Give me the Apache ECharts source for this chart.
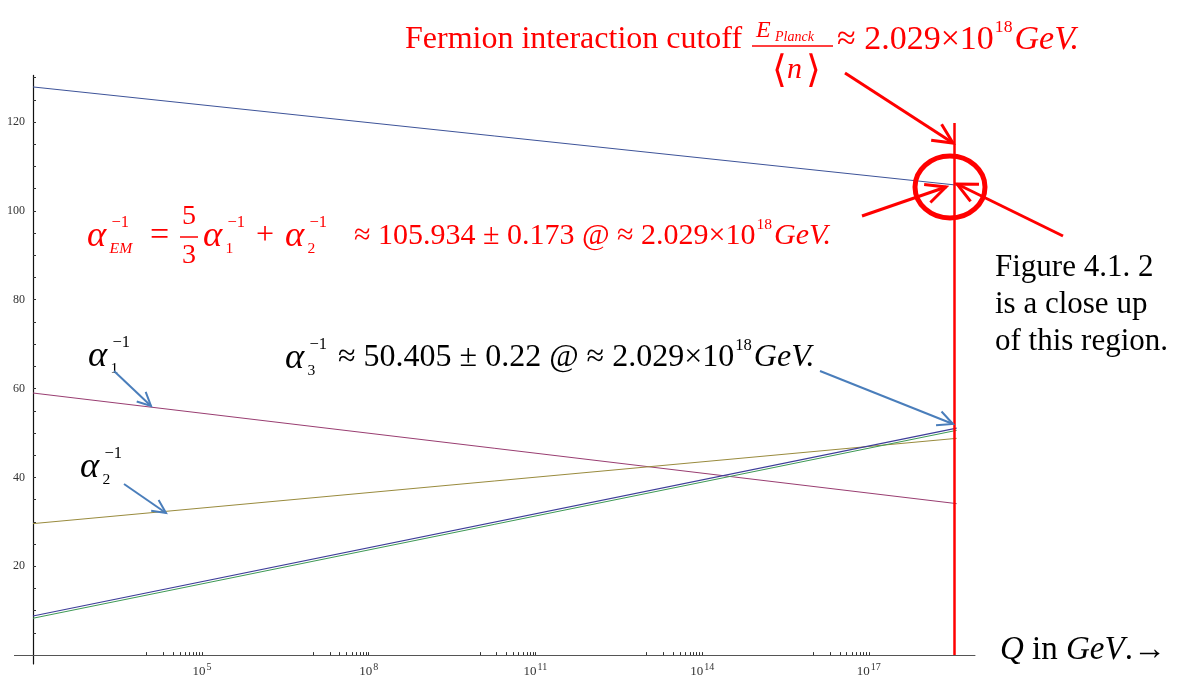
<!DOCTYPE html>
<html>
<head>
<meta charset="utf-8">
<script src="https://cdn.jsdelivr.net/npm/echarts@6/dist/echarts.min.js"></script>
<style>
  html, body { margin: 0; padding: 0; background: #fff; }
  #chart { width: 1179px; height: 677px; }
</style>
</head>
<body>
<div id="chart"></div>
<script>
// x is log10(Q / GeV)
const logQ = [1.96, 18.58];
const alphaEMinv = [127.9, 105.8];
const alpha1inv = [59.0, 34.1];
const alpha2inv = [29.6, 48.8];
const alpha3inv = [8.8, 51.1];
const alpha3invB = [8.3, 50.6];
const cutoffLogQ = 18.53;
const cutoffTop = 119.8;
const decades = [5, 8, 11, 14, 17];
const yLabels = [20, 40, 60, 80, 100, 120];
const yTicks = [5, 10, 15, 20, 25, 30, 35, 40, 45, 50, 55, 60, 65, 70, 75, 80, 85, 90, 95, 100, 105, 110, 115, 120, 125, 130];

const SERIF = '"Liberation Serif", "DejaVu Serif", serif';
const RED = '#ff0000';
const BLUE_ARROW = '#4a7ebb';

function pairs(ys) {
  return logQ.map(function (x, i) { return [x, ys[i]]; });
}

// minor ticks only in the decade before each labelled power
let xTicks = [];
decades.forEach(function (n) {
  for (let k = 1; k <= 9; k++) xTicks.push(n - 1 + Math.log10(k));
  xTicks.push(n);
});

function txt(x, y, s, size, color, italic, align) {
  return {
    type: 'text', x: x, y: y, z: 100,
    style: {
      text: s, fill: color, fontSize: size, fontFamily: SERIF,
      fontStyle: italic ? 'italic' : 'normal',
      align: align || 'left', verticalAlign: 'middle'
    }
  };
}

// greek alpha with stacked super- and subscript
function alpha(x, y, size, sub, sup, color, subItalic) {
  return [
    txt(x - 1, y, 'α', size * 1.22, color, true),
    txt(x + size * 0.78, y - size * 0.45, sup, size * 0.55, color, false),
    txt(x + size * 0.72, y + size * 0.42, sub, size * 0.52, color, !!subItalic)
  ];
}

function seg(x1, y1, x2, y2, color, w) {
  return {
    type: 'line', z: 100,
    shape: { x1: x1, y1: y1, x2: x2, y2: y2 },
    style: { stroke: color, lineWidth: w }
  };
}

function arrow(x1, y1, x2, y2, color, w, head) {
  const a = Math.atan2(y2 - y1, x2 - x1);
  const h = head || 18;
  const s = 0.45;
  return [
    seg(x1, y1, x2, y2, color, w),
    {
      type: 'polyline', z: 100,
      shape: { points: [
        [x2 - h * Math.cos(a - s), y2 - h * Math.sin(a - s)],
        [x2, y2],
        [x2 - h * Math.cos(a + s), y2 - h * Math.sin(a + s)]
      ] },
      style: { stroke: color, lineWidth: w, fill: null }
    }
  ];
}

function rich(x, y, parts, size, color) {
  return {
    type: 'text', x: x, y: y, z: 100,
    style: {
      text: parts, fill: color, fontSize: size, fontFamily: SERIF,
      verticalAlign: 'middle',
      rich: {
        n: { fontSize: size, fontFamily: SERIF, fill: color },
        i: { fontSize: size, fontFamily: SERIF, fill: color, fontStyle: 'italic' },
        s: { fontSize: size * 0.52, fontFamily: SERIF, fill: color, padding: [0, 2, size * 0.75, 1] }
      }
    }
  };
}

let g = [];
// x axis overshoot to the left of the y axis
g.push(seg(14, 655.5, 33, 655.5, '#555', 1));

// top caption
g.push(txt(405, 40, 'Fermion interaction cutoff', 32, RED, false));
g.push(txt(756, 31, 'E', 24, RED, true));
g.push(txt(775, 37, 'Planck', 14, RED, true));
g.push(seg(752, 46, 833, 46, RED, 1.5));
g.push(txt(772, 72, '⟨', 38, RED, false));
g.push(txt(787, 70, 'n', 30, RED, true));
g.push(txt(806, 72, '⟩', 38, RED, false));
g.push(rich(837, 40, '{n|≈ 2.029×10}{s|18}{i|GeV.}', 34, RED));

// EM relation
g = g.concat(alpha(88, 236, 30, 'EM', '−1', RED, true));
g.push(txt(150, 236, '=', 34, RED, false));
g.push(txt(189, 217, '5', 28, RED, false, 'center'));
g.push(seg(180, 237, 198, 237, RED, 1.5));
g.push(txt(189, 256, '3', 28, RED, false, 'center'));
g = g.concat(alpha(204, 236, 30, '1', '−1', RED));
g.push(txt(256, 236, '+', 32, RED, false));
g = g.concat(alpha(286, 236, 30, '2', '−1', RED));
g.push(rich(354, 236, '{n|≈ 105.934 ± 0.173 @ ≈ 2.029×10}{s|18}{i|GeV.}', 30, RED));

// alpha3 caption
g = g.concat(alpha(286, 358, 30, '3', '−1', '#000'));
g.push(rich(338, 358, '{n|≈ 50.405 ± 0.22 @ ≈ 2.029×10}{s|18}{i|GeV.}', 32, '#000'));

// line labels
g = g.concat(alpha(89, 356, 30, '1', '−1', '#000'));
g = g.concat(alpha(81, 467, 30, '2', '−1', '#000'));

// side note
g.push(txt(995, 268, 'Figure 4.1. 2', 31, '#000', false));
g.push(txt(995, 305, 'is a close up', 31, '#000', false));
g.push(txt(995, 342, 'of this region.', 31, '#000', false));

// axis title
g.push(rich(1000, 650, '{i|Q}{n| in }{i|GeV}{n|.→}', 33, '#000'));

// red arrows and circle
g = g.concat(arrow(845, 73, 953, 143, RED, 3, 22));
g = g.concat(arrow(862, 216, 946, 187, RED, 3, 22));
g = g.concat(arrow(1063, 236, 957, 184, RED, 3, 22));
g.push({
  type: 'ellipse', z: 100,
  shape: { cx: 950, cy: 187, rx: 35, ry: 31 },
  style: { stroke: RED, lineWidth: 5, fill: null }
});

// blue pointer arrows
g = g.concat(arrow(114, 371, 151, 406, BLUE_ARROW, 2, 15));
g = g.concat(arrow(124, 484, 166, 513, BLUE_ARROW, 2, 15));
g = g.concat(arrow(820, 371, 953, 424, BLUE_ARROW, 2, 17));

const chart = echarts.init(document.getElementById('chart'));

chart.setOption({
  animation: false,
  backgroundColor: '#fff',
  grid: { left: 33, right: 204, top: 75.4, bottom: 13, outerBoundsMode: 'none', containLabel: false },
  xAxis: {
    type: 'value',
    min: 1.96,
    max: 18.91,
    splitLine: { show: false },
    axisLine: { onZero: true, lineStyle: { color: '#555', width: 1 } },
    axisTick: { inside: true, length: 3, customValues: xTicks, lineStyle: { color: '#333' } },
    axisLabel: {
      customValues: decades,
      margin: -2,
      formatter: function (v) { return '{b|10}{s|' + Math.round(v) + '}'; },
      rich: {
        b: { fontSize: 13, fontFamily: SERIF, color: '#333' },
        s: { fontSize: 10, fontFamily: SERIF, color: '#333', padding: [0, 0, 9, 1] }
      }
    }
  },
  yAxis: {
    type: 'value',
    min: -2,
    max: 130.5,
    splitLine: { show: false },
    axisLine: { onZero: false, lineStyle: { color: '#111', width: 1.2 } },
    axisTick: { inside: true, length: 3, customValues: yTicks, lineStyle: { color: '#333' } },
    axisLabel: {
      customValues: yLabels,
      margin: 8,
      fontSize: 12,
      fontFamily: SERIF,
      color: '#333'
    }
  },
  series: [
    {
      name: 'alphaEM', type: 'line', data: pairs(alphaEMinv), showSymbol: false,
      lineStyle: { color: '#3d5399', width: 1 }, silent: true,
      markLine: {
        silent: true, symbol: 'none', label: { show: false },
        lineStyle: { color: RED, width: 2.5, type: 'solid' },
        data: [[{ coord: [cutoffLogQ, 0] }, { coord: [cutoffLogQ, cutoffTop] }]]
      }
    },
    { name: 'alpha1', type: 'line', data: pairs(alpha1inv), showSymbol: false, lineStyle: { color: '#993d71', width: 1 }, silent: true },
    { name: 'alpha2', type: 'line', data: pairs(alpha2inv), showSymbol: false, lineStyle: { color: '#998b3d', width: 1 }, silent: true },
    { name: 'alpha3b', type: 'line', data: pairs(alpha3invB), showSymbol: false, lineStyle: { color: '#3d9954', width: 1 }, silent: true },
    { name: 'alpha3', type: 'line', data: pairs(alpha3inv), showSymbol: false, lineStyle: { color: '#3d3d99', width: 1.2 }, silent: true }
  ],
  graphic: g
});
</script>
</body>
</html>
